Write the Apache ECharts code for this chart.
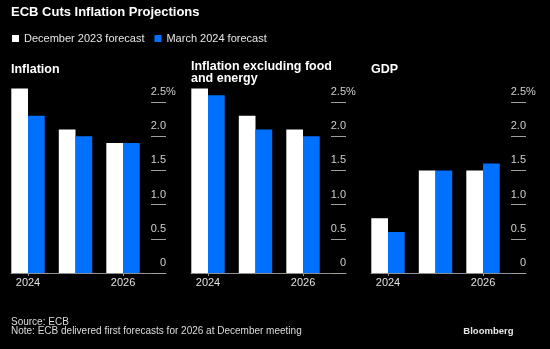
<!DOCTYPE html>
<html>
<head>
<meta charset="utf-8">
<style>
  html, body { margin: 0; padding: 0; background: #000; }
  #chart { width: 550px; height: 349px; }
</style>
<script src="https://cdn.jsdelivr.net/npm/echarts@6/dist/echarts.min.js"></script>
</head>
<body>
<div id="chart"></div>
<script>
// ---- data ----
const years = [2024, 2025, 2026];
const xTickYears = [2024, 2026];
const yTicks = [0, 0.5, 1, 1.5, 2, 2.5];
const seriesNames = ['December 2023 forecast', 'March 2024 forecast'];
const panelTitles = ['Inflation', 'Inflation excluding food\nand energy', 'GDP'];
const inflationDec = [2.7, 2.1, 1.9];
const inflationMar = [2.3, 2.0, 1.9];
const coreDec = [2.7, 2.3, 2.1];
const coreMar = [2.6, 2.1, 2.0];
const gdpDec = [0.8, 1.5, 1.5];
const gdpMar = [0.6, 1.5, 1.6];

const panelData = [[inflationDec, inflationMar], [coreDec, coreMar], [gdpDec, gdpMar]];
const colors = ['#ffffff', '#0070ff'];
const FONT = "'Liberation Sans', Arial, sans-serif";
const panelLeft = [11, 191, 371];
const panelTitleTop = [63.5, 60.5, 63.5];
const gridW = 155, gridTop = 85, gridH = 188;
const axisGray = '#8f8f8f';

const grids = [], xAxes = [], yAxes = [], series = [], titles = [];

titles.push({
  text: 'ECB Cuts Inflation Projections', left: 11, top: 5.2, padding: 0,
  textStyle: { color: '#fff', fontSize: 13, fontWeight: 'bold', fontFamily: FONT, lineHeight: 15 }
});
titles.push({
  text: 'Source: ECB', left: 11, top: 317.3, padding: 0,
  textStyle: { color: '#dcdcdc', fontSize: 10, fontWeight: 'normal', fontFamily: FONT, lineHeight: 10 }
});
titles.push({
  text: 'Note: ECB delivered first forecasts for 2026 at December meeting', left: 11, top: 326, padding: 0,
  textStyle: { color: '#dcdcdc', fontSize: 10, fontWeight: 'normal', fontFamily: FONT, lineHeight: 10 }
});
titles.push({
  text: 'Bloomberg', right: 36.5, top: 326, padding: 0,
  textStyle: { color: '#e6e6e6', fontSize: 9.5, fontWeight: 'bold', fontFamily: FONT, lineHeight: 10 }
});

panelData.forEach((pair, i) => {
  titles.push({
    text: panelTitles[i], left: panelLeft[i], top: panelTitleTop[i], padding: 0,
    textStyle: { color: '#fff', fontSize: 12.5, fontWeight: 'bold', fontFamily: FONT, lineHeight: i === 1 ? 12 : 13 }
  });
  grids.push({ left: panelLeft[i], top: gridTop, width: gridW, height: gridH });
  xAxes.push({
    type: 'value', gridIndex: i,
    min: 2023.642, max: 2026.905,
    splitLine: { show: false },
    axisLine: { show: true, lineStyle: { color: axisGray, width: 1 } },
    axisTick: { show: true, customValues: xTickYears, length: 3, lineStyle: { color: axisGray } },
    axisLabel: {
      customValues: xTickYears, color: '#e0e0e0', fontSize: 11, fontFamily: FONT, margin: 4,
      formatter: v => String(Math.round(v))
    }
  });
  yAxes.push({
    type: 'value', gridIndex: i, position: 'right',
    min: 0, max: 2.75,
    splitLine: { show: false },
    axisLine: { show: false },
    axisTick: { show: true, inside: true, length: 15, customValues: yTicks, lineStyle: { color: '#a0a0a0' } },
    axisLabel: {
      customValues: yTicks, align: 'right', margin: 9.8, verticalAlign: 'bottom',
      padding: [0, 0, 3.5, 0], lineHeight: 13,
      formatter: v => {
        const t = v === 0 ? '0' : v.toFixed(1);
        return v === 2.5 ? '{n|' + t + '}{p|%}' : '{n|' + t + '}{h|%}';
      },
      rich: {
        n: { color: '#cfcfcf', fontSize: 11, fontFamily: FONT, lineHeight: 13 },
        p: { color: '#cfcfcf', fontSize: 11, fontFamily: FONT, lineHeight: 13 },
        h: { color: 'rgba(0,0,0,0)', fontSize: 11, fontFamily: FONT, lineHeight: 13 }
      }
    }
  });
  pair.forEach((vals, k) => {
    series.push({
      type: 'bar', name: seriesNames[k], xAxisIndex: i, yAxisIndex: i,
      data: years.map((y, j) => [y, vals[j]]),
      barWidth: 16.7, barGap: '0%',
      itemStyle: { color: colors[k] },
      emphasis: { disabled: true },
      animation: false
    });
  });
});

const chart = echarts.init(document.getElementById('chart'), null, { renderer: 'canvas' });
chart.setOption({
  backgroundColor: '#000',
  animation: false,
  title: titles,
  legend: {
    data: seriesNames, left: 12, top: 33, padding: 0,
    icon: 'rect', itemWidth: 7, itemHeight: 7, itemGap: 10,
    textStyle: { color: '#e6e6e6', fontSize: 11, fontFamily: FONT },
    selectedMode: false
  },
  grid: grids,
  xAxis: xAxes,
  yAxis: yAxes,
  series: series
});
</script>
</body>
</html>
